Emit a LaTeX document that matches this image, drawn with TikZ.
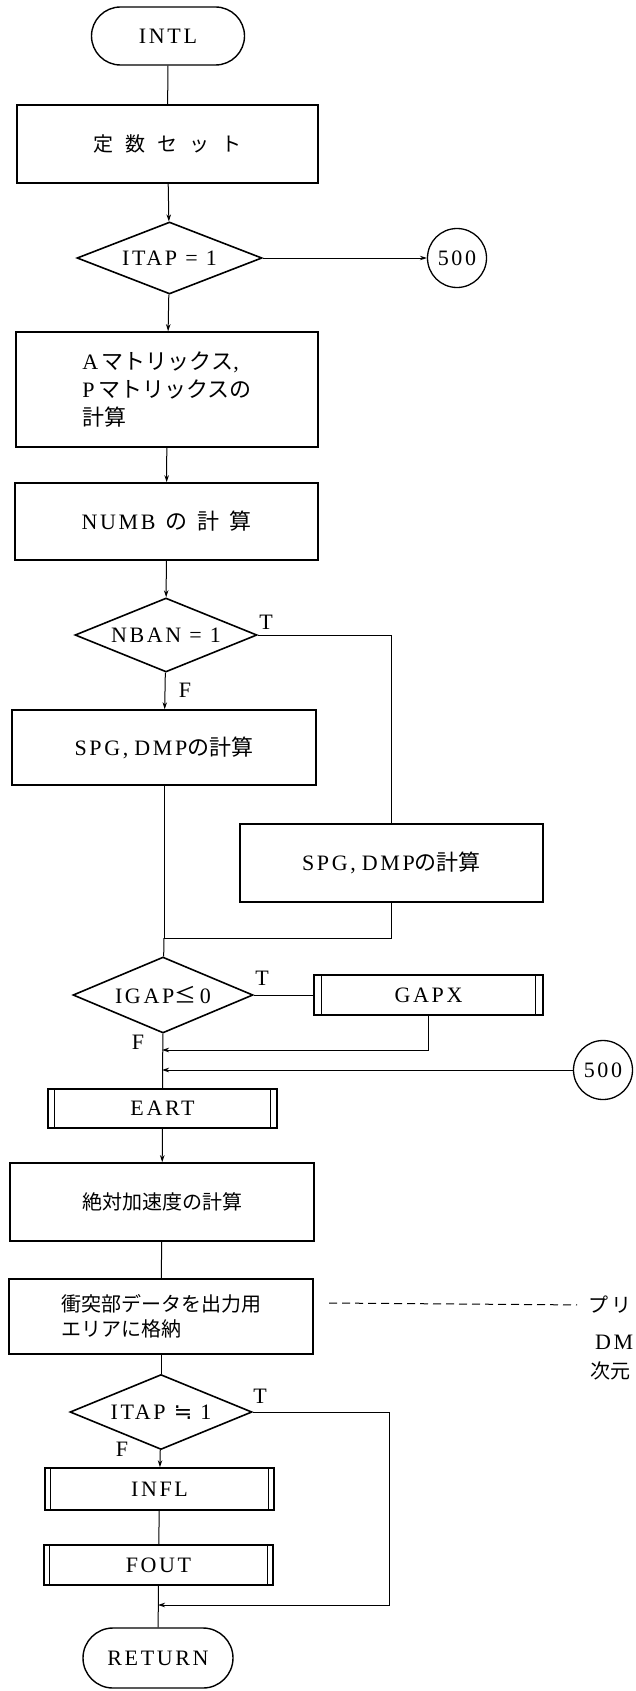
\documentclass[tikz,border=0pt]{standalone}
\usepackage{fontspec}
\setmainfont{Liberation Serif}[LetterSpace=12]
\newfontfamily\jp{Noto Sans CJK JP}
\newfontfamily\symf{DejaVu Sans}
\usetikzlibrary{shapes.geometric,arrows.meta,calc}
\begin{document}
\begin{tikzpicture}[x=1pt,y=-1pt,
  every node/.style={font=\fontsize{22}{28}\selectfont},
  jpf/.style={font=\jp\fontsize{20}{25}\selectfont},
  box/.style={draw, line width=1.6pt, rectangle, inner sep=0pt},
  term/.style={draw, line width=1.4pt, rectangle, inner sep=0pt},
  dec/.style={draw, line width=1.6pt, diamond, inner sep=0pt, aspect=2.4},
  con/.style={draw, line width=1.3pt, circle, inner sep=0pt, minimum size=59pt},
  ln/.style={line width=1pt},
  arr/.style={ln, -{Stealth[length=7pt,width=4.5pt]}},
  lbl/.style={inner sep=0pt}
]
\useasboundingbox (0,0) rectangle (636,1691);

% nodes
\node[term, rounded corners=29pt, minimum width=153pt, minimum height=58pt] (intl) at (168,36) {INTL};
\node[box, jpf, minimum width=301pt, minimum height=78pt] (const) at (167.5,144) {定\hspace{12pt}数\hspace{12pt}セ\hspace{12pt}ッ\hspace{12pt}ト};
\node[dec, minimum width=185pt, minimum height=72pt] (d1) at (169.5,258) {ITAP = 1};
\node[con] (c500a) at (457,258) {500};
\node[box, minimum width=302pt, minimum height=115pt, align=left] (amat) at (167,389.5) {A\,{\jp マトリックス},\\P\,{\jp マトリックスの}\\{\jp 計算}};
\node[box, minimum width=303pt, minimum height=77pt] (numb) at (166.5,521.5) {NUMB\hspace{10pt}{\jp の\hspace{10pt}計\hspace{10pt}算}};
\node[dec, minimum width=182pt, minimum height=74pt] (d2) at (166,635) {NBAN = 1};
\node[box, minimum width=304pt, minimum height=75pt] (spg1) at (164,747.5) {SPG,\hspace{6pt}DMP{\jp の計算}};
\node[box, minimum width=303pt, minimum height=78pt] (spg2) at (391.5,863) {SPG,\hspace{6pt}DMP{\jp の計算}};
\coordinate (m1) at (164,938);
\node[dec, minimum width=180pt, minimum height=76pt] (d3) at (163,995) {IGAP{\jp ≤}\,0};
\node[box, minimum width=229pt, minimum height=40pt] (gapx) at (428.5,995) {GAPX};
\coordinate (j1) at (162,1050);
\coordinate (j2) at (162,1070);
\node[con] (c500b) at (603,1070) {500};
\node[box, minimum width=229pt, minimum height=39pt] (eart) at (162.5,1108.5) {EART};
\node[box, jpf, minimum width=304pt, minimum height=78pt] (abs) at (162,1202) {絶対加速度の計算};
\node[box, jpf, minimum width=304pt, minimum height=75pt, align=left] (store) at (161,1316.5) {衝突部データを出力用\\エリアに格納};
\node[dec, minimum width=182pt, minimum height=75pt] (d4) at (161,1412) {ITAP {\symf ≒} 1};
\node[box, minimum width=229pt, minimum height=42pt] (infl) at (159.5,1489) {INFL};
\node[box, minimum width=229pt, minimum height=40pt] (fout) at (158.5,1565) {FOUT};
\coordinate (j3) at (158,1605);
\coordinate (r4) at (389,1605);
\node[term, rounded corners=30pt, minimum width=150pt, minimum height=60pt] (ret) at (158,1658) {RETURN};

% predefined-process inner lines
\foreach \n/\d in {gapx/8,eart/7,infl/6,fout/6}{
  \draw[line width=1.2pt] ([xshift=\d pt]\n.north west) -- ([xshift=\d pt]\n.south west);
  \draw[line width=1.2pt] ([xshift=-\d pt]\n.north east) -- ([xshift=-\d pt]\n.south east);
}

% side note
\coordinate (ds) at (329,1303);
\node[jpf, anchor=west, inner sep=0pt] (pr) at (588,1305) {プ\hspace{3pt}リ};
\node[anchor=west, inner sep=0pt] (dm) at (595,1342) {DM};
\node[jpf, anchor=west, inner sep=0pt] (jg) at (590,1371) {次元};
\draw[ln, dash pattern=on 8pt off 5pt, shorten >=11pt] (ds) -- (pr.west);

% labels
\node[lbl] (t2) at (266,622) {T};
\node[lbl] (f2) at (185,690) {F};
\node[lbl] (t3) at (262,978) {T};
\node[lbl] (f3) at (138,1042) {F};
\node[lbl] (t4) at (260,1396) {T};
\node[lbl] (f4) at (122,1449) {F};

% connectors
\draw[ln] (intl) -- (const);
\draw[arr] (const) -- (d1);
\draw[arr] (d1) -- (c500a);
\draw[arr] (d1) -- (amat);
\draw[arr] (amat) -- (numb);
\draw[arr] (numb) -- (d2);
\draw[arr] (d2) -- (spg1);
\draw[ln] (d2.east) -| (spg2.north);
\draw[ln] (spg1) -- (m1);
\draw[ln] (spg2.south) |- (m1);
\draw[ln] (m1) -- (d3);
\draw[ln] (d3) -- (gapx);
\draw[arr] (gapx.south) |- (j1);
\draw[arr] (c500b) -- (j2);
\draw[ln] (d3) -- (eart);
\draw[arr] (eart) -- (abs);
\draw[ln] (abs) -- (store);
\draw[ln] (store) -- (d4);
\draw[arr] (d4) -- (infl);
\draw[ln] (infl) -- (fout);
\draw[ln] (fout) -- (ret);
\draw[arr] (d4.east) -| (r4) -- (j3);
\end{tikzpicture}
\end{document}
